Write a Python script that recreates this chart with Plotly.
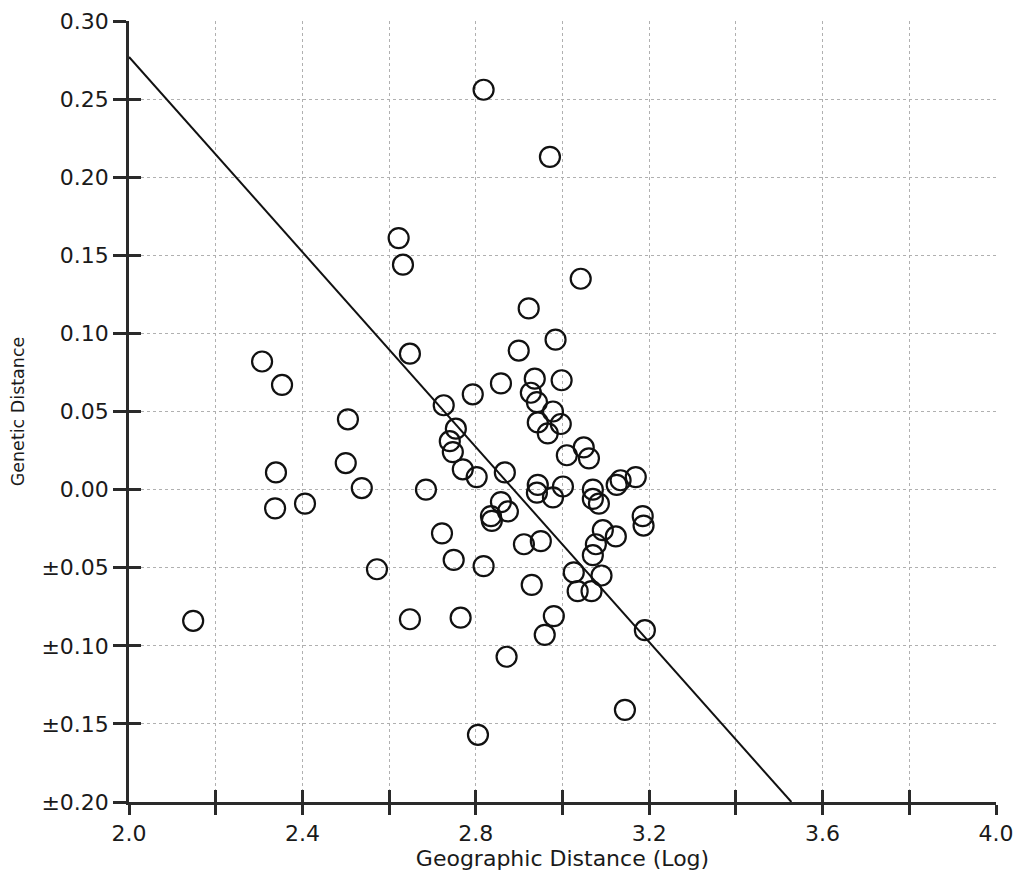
import plotly.graph_objects as go

# Scatter data: geographic distance (log) vs genetic distance
geo_dist = [2.148, 2.307, 2.353, 2.339, 2.337, 2.406, 2.505, 2.500, 2.537, 2.572,
            2.622, 2.632, 2.648, 2.648, 2.685, 2.722, 2.726, 2.740, 2.754, 2.747,
            2.749, 2.765, 2.770, 2.793, 2.802, 2.805, 2.818, 2.818, 2.835, 2.837,
            2.858, 2.858, 2.867, 2.874, 2.871, 2.899, 2.911, 2.922, 2.927, 2.929,
            2.936, 2.941, 2.943, 2.943, 2.941, 2.950, 2.959, 2.966, 2.971, 2.978,
            2.980, 2.978, 2.984, 2.996, 2.998, 3.001, 3.010, 3.026, 3.035, 3.042,
            3.049, 3.061, 3.067, 3.070, 3.070, 3.070, 3.084, 3.077, 3.090, 3.093,
            3.123, 3.125, 3.134, 3.144, 3.169, 3.185, 3.187, 3.190]
gen_dist = [-0.084, 0.082, 0.067, 0.011, -0.012, -0.009, 0.045, 0.017, 0.001, -0.051,
            0.161, 0.144, 0.087, -0.083, 0.000, -0.028, 0.054, 0.031, 0.039, 0.024,
            -0.045, -0.082, 0.013, 0.061, 0.008, -0.157, 0.256, -0.049, -0.017, -0.020,
            0.068, -0.008, 0.011, -0.014, -0.107, 0.089, -0.035, 0.116, 0.062, -0.061,
            0.071, 0.056, 0.043, 0.003, -0.002, -0.033, -0.093, 0.036, 0.213, 0.050,
            -0.081, -0.005, 0.096, 0.042, 0.070, 0.002, 0.022, -0.053, -0.065, 0.135,
            0.027, 0.020, -0.065, 0.000, -0.006, -0.042, -0.009, -0.035, -0.055, -0.026,
            -0.030, 0.003, 0.006, -0.141, 0.008, -0.017, -0.023, -0.090]

# Regression line endpoints
fit_x = [2.0, 3.528]
fit_y = [0.277, -0.20]

# Axis ticks
x_ticks = [2.0, 2.2, 2.4, 2.6, 2.8, 3.0, 3.2, 3.4, 3.6, 3.8, 4.0]
x_ticktext = ["2.0", "", "2.4", "", "2.8", "", "3.2", "", "3.6", "", "4.0"]
y_ticks = [0.30, 0.25, 0.20, 0.15, 0.10, 0.05, 0.00, -0.05, -0.10, -0.15, -0.20]
y_ticktext = ["0.30", "0.25", "0.20", "0.15", "0.10", "0.05", "0.00",
              "\u00b10.05", "\u00b10.10", "\u00b10.15", "\u00b10.20"]

FONT = "DejaVu Sans"
AX = "#2a2a2a"
TXT = "#1a1a1a"

fig = go.Figure()
fig.add_trace(go.Scatter(x=fit_x, y=fit_y, mode="lines",
                         line=dict(color="#111111", width=2), showlegend=False,
                         hoverinfo="skip"))
fig.add_trace(go.Scatter(x=geo_dist, y=gen_dist, mode="markers",
                         marker=dict(symbol="circle-open", size=20,
                                     color="#111111", line=dict(width=2.2)),
                         showlegend=False))
# invisible trace on secondary axes (for crossing ticks)
fig.add_trace(go.Scatter(x=[2.0], y=[0.0], xaxis="x2", yaxis="y2", mode="markers",
                         marker=dict(opacity=0), showlegend=False, hoverinfo="skip"))

xr = [2.0, 4.0]
yr = [-0.20, 0.30]
fig.update_layout(
    width=1024, height=885,
    margin=dict(l=121, r=36, t=13, b=91),
    plot_bgcolor="white", paper_bgcolor="white",
    font=dict(family=FONT, color=TXT, size=22),
    xaxis=dict(range=xr, tickvals=x_ticks, ticktext=x_ticktext, automargin=False,
               showline=True, linecolor=AX, linewidth=2.5,
               ticks="outside", ticklen=10, tickwidth=2.5, tickcolor=AX,
               showgrid=True, gridcolor="#b0b0b0", gridwidth=1, griddash="dot",
               zeroline=False, tickfont=dict(family=FONT, size=22, color=TXT),
               title=dict(text="Geographic Distance (Log)",
                          font=dict(family=FONT, size=22, color=TXT), standoff=2)),
    yaxis=dict(range=yr, tickvals=y_ticks, ticktext=y_ticktext, automargin=False,
               showline=True, linecolor=AX, linewidth=2.5,
               ticks="outside", ticklen=13, tickwidth=2.5, tickcolor=AX,
               showgrid=True, gridcolor="#b0b0b0", gridwidth=1, griddash="3px,3px",
               zeroline=False, tickfont=dict(family=FONT, size=22, color=TXT),
               ticklabelstandoff=0,
               title=dict(text="Genetic Distance",
                          font=dict(family=FONT, size=17.5, color=TXT), standoff=13)),
    xaxis2=dict(range=xr, overlaying="x", anchor="y", side="bottom", automargin=False,
                tickvals=x_ticks, showticklabels=False, ticks="inside", ticklen=12,
                tickwidth=2.5, tickcolor=AX, showgrid=False, showline=False, zeroline=False),
    yaxis2=dict(range=yr, overlaying="y", anchor="x", side="left", automargin=False,
                tickvals=y_ticks, showticklabels=False, ticks="inside", ticklen=12,
                tickwidth=2.5, tickcolor=AX, showgrid=False, showline=False, zeroline=False),
)

fig.write_html("out.html")
